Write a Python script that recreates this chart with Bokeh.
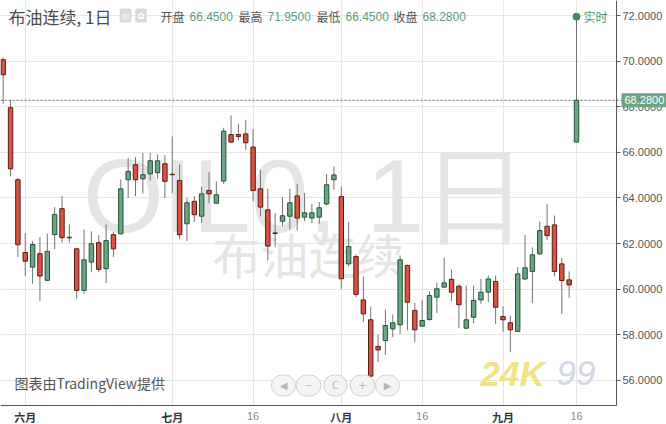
import pandas as pd
from bokeh.plotting import figure
from bokeh.models import (FixedTicker, NumeralTickFormatter, Span, Label,
                          ColumnDataSource, Range1d, BoxAnnotation)
from bokeh.embed import file_html
from bokeh.resources import INLINE

# ---------------- data ----------------
dates = pd.bdate_range("2019-05-29", "2019-09-16")

opens = [70.06, 67.96, 64.80, 61.61, 60.97, 61.56, 60.39, 62.39, 63.53, 62.25,
         61.77, 59.95, 61.19, 62.04, 60.90, 62.39, 62.43, 64.80, 65.46, 64.84,
         65.06, 65.11, 65.50, 65.04, 64.77, 62.87, 63.85, 63.20, 64.33, 63.77,
         64.74, 66.78, 66.78, 66.81, 66.23, 64.40, 63.48, 62.47, 62.98, 63.20,
         64.09, 63.16, 63.12, 63.16, 63.74, 64.80, 64.06, 61.11, 61.43, 59.53,
         58.66, 57.49, 57.75, 58.26, 58.44, 61.04, 59.07, 58.38, 58.67, 59.65,
         60.09, 60.43, 60.13, 58.29, 58.77, 59.53, 59.87, 60.34, 58.80, 58.53,
         58.15, 60.45, 60.78, 61.55, 62.76, 62.82, 61.11, 60.41, 66.45]
highs = [70.15, 68.31, 64.87, 62.46, 62.10, 62.29, 62.43, 63.60, 64.08, 62.84,
         61.82, 62.62, 62.54, 62.36, 62.84, 62.51, 64.81, 65.75, 65.79, 65.97,
         65.98, 65.91, 65.87, 66.70, 65.47, 64.00, 64.08, 64.50, 65.13, 64.72,
         67.08, 67.62, 67.25, 67.43, 67.03, 65.23, 64.40, 63.33, 64.04, 64.40,
         64.62, 64.21, 63.74, 63.82, 65.06, 65.38, 64.50, 62.94, 61.52, 60.56,
         59.24, 58.01, 59.11, 58.89, 61.48, 61.08, 59.40, 59.51, 59.91, 60.28,
         61.38, 60.86, 60.21, 60.16, 60.16, 60.45, 60.60, 60.60, 59.24, 58.85,
         60.97, 62.38, 61.84, 62.97, 63.74, 63.23, 61.38, 60.78, 71.95]
lows = [68.13, 64.95, 61.41, 60.58, 60.24, 59.48, 60.36, 61.75, 62.04, 62.04,
        59.58, 59.80, 60.75, 60.75, 60.27, 61.41, 62.40, 64.00, 64.08, 64.19,
        64.77, 64.84, 64.00, 64.22, 62.21, 62.11, 62.94, 62.90, 63.77, 63.74,
        64.62, 66.40, 66.52, 66.11, 63.85, 63.19, 61.26, 61.84, 62.76, 62.62,
        62.57, 62.98, 62.90, 62.87, 63.67, 64.36, 60.02, 61.00, 59.65, 58.56,
        56.00, 56.80, 57.12, 57.90, 58.04, 58.19, 57.68, 58.37, 58.63, 58.95,
        60.09, 59.48, 58.29, 58.26, 58.51, 59.36, 59.43, 58.48, 58.12, 57.24,
        58.12, 60.40, 59.39, 61.50, 62.17, 60.56, 58.92, 59.62, 66.45]
closes = [69.40, 65.28, 61.95, 61.23, 61.96, 60.58, 61.66, 63.28, 62.26, 62.28,
          59.95, 61.29, 61.99, 60.87, 62.13, 61.77, 64.40, 65.16, 64.80, 65.02,
          65.63, 65.63, 64.73, 65.02, 62.39, 63.79, 63.27, 64.18, 64.18, 64.14,
          66.93, 66.45, 66.70, 66.42, 64.33, 63.60, 61.89, 62.44, 63.22, 63.79,
          63.12, 63.35, 63.35, 63.57, 64.58, 65.01, 60.46, 61.87, 59.77, 58.92,
          56.19, 57.34, 58.41, 58.53, 61.29, 59.43, 58.22, 58.63, 59.72, 60.02,
          60.28, 59.87, 59.32, 58.66, 59.51, 59.87, 60.45, 59.21, 58.66, 58.22,
          60.67, 60.94, 61.51, 62.57, 62.35, 60.78, 60.38, 60.19, 68.28]

price_ticks = [56, 58, 60, 62, 64, 66, 68, 70, 72]
month_names = {6: "六月", 7: "七月", 8: "八月", 9: "九月"}
title_text = "布油连续, 1日"
symbol_text = "OIL0, 1日"
name_text = "布油连续"
credit_text = "图表由TradingView提供"

# ---------------- layout geometry (pixels) ----------------
W, H = 666, 424
BAR0_PX, BAR_STEP = 2.7, 7.35        # x pixel of first bar, pixels per bar
P72_PX, PX_PER_UNIT = 15.0, 22.81    # y pixel of price 72, pixels per price unit
YAXIS_PX, XAXIS_PX = 616.0, 404.5


def bar_at(px):
    return (px - BAR0_PX) / BAR_STEP


def price_at(py):
    return 72 - (py - P72_PX) / PX_PER_UNIT


x_axis_pos = price_at(XAXIS_PX)
y_axis_pos = bar_at(YAXIS_PX)

# ---------------- derived ----------------
n = len(dates)
idx = list(range(n))
month_ticks, day16_ticks = [], []
for i, d in enumerate(dates):
    if i > 0 and d.month != dates[i - 1].month:
        month_ticks.append(i)
    if d.day == 16:
        day16_ticks.append(i)

UP_FILL, UP_LINE = "#6ba583", "#225437"
DN_FILL, DN_LINE = "#d75442", "#5b1a13"
WICK = "#737375"
GREEN_TXT = "#5c9e7c"

src = ColumnDataSource(dict(
    x=idx, o=opens, h=highs, l=lows, c=closes,
    top=[max(a, b) for a, b in zip(opens, closes)],
    bottom=[min(a, b) for a, b in zip(opens, closes)],
    fill=[UP_FILL if c >= o else DN_FILL for o, c in zip(opens, closes)],
    line=[UP_LINE if c >= o else DN_LINE for o, c in zip(opens, closes)],
))

p = figure(width=W, height=H,
           x_range=Range1d(bar_at(0), bar_at(W)),
           y_range=Range1d(price_at(H), price_at(0)),
           output_backend="svg", toolbar_location=None,
           y_axis_location="right",
           min_border=0, min_border_left=0, min_border_right=0,
           min_border_top=0, min_border_bottom=0,
           outline_line_color=None,
           background_fill_color="white", border_fill_color="white")

# grids
p.xgrid.ticker = FixedTicker(ticks=sorted(month_ticks + day16_ticks))
p.xgrid.grid_line_color = "#e6e6e6"
p.ygrid.ticker = FixedTicker(ticks=price_ticks)
p.ygrid.grid_line_color = "#e6e6e6"

# white areas outside the plotting pane (hide grid lines there)
p.add_layout(BoxAnnotation(left=y_axis_pos, fill_color="white", fill_alpha=1,
                           line_color=None, level="underlay"))
p.add_layout(BoxAnnotation(top=x_axis_pos, fill_color="white", fill_alpha=1,
                           line_color=None, level="underlay"))

# x axis
xa = p.xaxis[0]
xa.fixed_location = x_axis_pos
xa.bounds = (bar_at(0), y_axis_pos)
xa.ticker = FixedTicker(ticks=month_ticks)
xa.major_label_overrides = {i: month_names[dates[i].month] for i in month_ticks}
xa.major_label_text_font = "Noto Sans CJK SC"
xa.major_label_text_font_style = "bold"
xa.major_label_text_font_size = "11px"
xa.major_label_text_color = "#333333"
xa.major_label_standoff = 4
xa.major_tick_out = 0
xa.major_tick_in = 0
xa.minor_tick_out = 0
xa.minor_tick_in = 0
xa.axis_line_color = "#555555"

# y axis
ya = p.yaxis[0]
ya.fixed_location = y_axis_pos
ya.bounds = (x_axis_pos, price_at(0))
ya.ticker = FixedTicker(ticks=price_ticks)
ya.formatter = NumeralTickFormatter(format="0.0000")
ya.major_label_text_font = "Liberation Sans"
ya.major_label_text_font_size = "11px"
ya.major_label_text_color = "#555555"
ya.major_label_standoff = 2
ya.major_tick_out = 4
ya.major_tick_in = 0
ya.minor_tick_out = 0
ya.minor_tick_in = 0
ya.major_tick_line_color = "#555555"
ya.axis_line_color = "#555555"

# watermarks
p.add_layout(Label(x=305, y=H - 195.5, x_units="screen", y_units="screen",
                   text=symbol_text, text_align="center",
                   text_baseline="middle", text_font="Liberation Sans",
                   text_font_size="104px", text_color="#e5e5e5",
                   level="underlay"))
p.add_layout(Label(x=308, y=H - 252, x_units="screen", y_units="screen",
                   text=name_text, text_align="center", text_baseline="middle",
                   text_font="Noto Sans CJK SC", text_font_size="48px",
                   text_color="#e5e5e5", level="underlay"))

# last-close dashed line
p.add_layout(Span(location=closes[-1], dimension="width", line_color="#666666",
                  line_dash="2 2", line_width=1))

# candles
p.segment(x0="x", y0="l", x1="x", y1="h", source=src, line_color=WICK,
          line_width=1)
p.vbar(x="x", width=0.6, top="top", bottom="bottom", source=src,
       fill_color="fill", line_color="line", line_width=1)

# live dot
p.scatter(x=[idx[-1]], y=[highs[-1]], size=7, color="#3d8c5f")
p.add_layout(Label(x=idx[-1], y=highs[-1], x_offset=7, text="实时",
                   text_baseline="middle", text_font="Noto Sans CJK SC",
                   text_font_size="12px", text_color="#4c9a70"))

# header
p.add_layout(Label(x=8, y=H - 16, x_units="screen", y_units="screen",
                   text=title_text, text_baseline="middle",
                   text_font="Noto Sans CJK SC", text_font_size="17px",
                   text_color="#4d4d4d"))
for sx, sym in [(125, "◎"), (140.5, "✿")]:
    p.add_layout(Label(x=sx, y=H - 15, x_units="screen", y_units="screen",
                       text=sym, text_align="center", text_baseline="middle",
                       text_font="DejaVu Sans", text_font_size="9px",
                       text_color="white", background_fill_color="#d9d9d9",
                       padding=2, border_radius=2))
ohlc = [("开盘", opens[-1]), ("最高", highs[-1]), ("最低", lows[-1]),
        ("收盘", closes[-1])]
lab_x = [160, 238, 316, 393]
for (name, val), sx in zip(ohlc, lab_x):
    p.add_layout(Label(x=sx, y=H - 16, x_units="screen", y_units="screen",
                       text=name, text_baseline="middle",
                       text_font="Noto Sans CJK SC", text_font_size="12px",
                       text_color="#555555"))
    p.add_layout(Label(x=sx + 29, y=H - 16, x_units="screen", y_units="screen",
                       text=f"{val:.4f}", text_baseline="middle",
                       text_font="Liberation Sans", text_font_size="12px",
                       text_color=GREEN_TXT))

# price tag on the axis
p.add_layout(Label(x=y_axis_pos, y=closes[-1], x_offset=5,
                   text=f"{closes[-1]:.4f}", text_baseline="middle",
                   text_font="Liberation Sans", text_font_size="11px",
                   text_color="white", background_fill_color="#6ba583",
                   padding=3))

# "16" day labels (lighter than month labels)
for i in day16_ticks:
    p.add_layout(Label(x=i, y=x_axis_pos, y_offset=-10.5,
                       text=str(dates[i].day), text_align="center",
                       text_baseline="middle", text_font="Liberation Sans",
                       text_font_size="11px", text_color="#888888"))

# credit
p.add_layout(Label(x=14, y=H - 382, x_units="screen", y_units="screen",
                   text=credit_text, text_baseline="middle",
                   text_font="Noto Sans CJK SC", text_font_size="14px",
                   text_color="#555555"))

# navigation buttons
for sx, sym in [(283, "◀"), (308, "−"), (335, "C"), (362, "+"), (387, "▶")]:
    p.add_layout(Label(x=sx, y=H - 385, x_units="screen", y_units="screen",
                       text="\u00a0" + sym + "\u00a0", text_align="center",
                       text_baseline="middle",
                       text_font="DejaVu Sans", text_font_size="10px",
                       text_color="#b8b8b8", background_fill_color="#f4f4f4",
                       border_line_color="#d0d0d0", padding=5,
                       border_radius=11))

# logo
p.add_layout(Label(x=480, y=H - 372.5, x_units="screen", y_units="screen",
                   text="24K", text_baseline="middle", text_font="Liberation Sans",
                   text_font_style="bold italic", text_font_size="35px",
                   text_color="#f1e37f"))
p.add_layout(Label(x=556, y=H - 372.5, x_units="screen", y_units="screen",
                   text="99", text_baseline="middle", text_font="Liberation Sans",
                   text_font_style="italic", text_font_size="35px",
                   text_color="#d3d7e4"))

open("out.html", "w").write(file_html(p, INLINE))
